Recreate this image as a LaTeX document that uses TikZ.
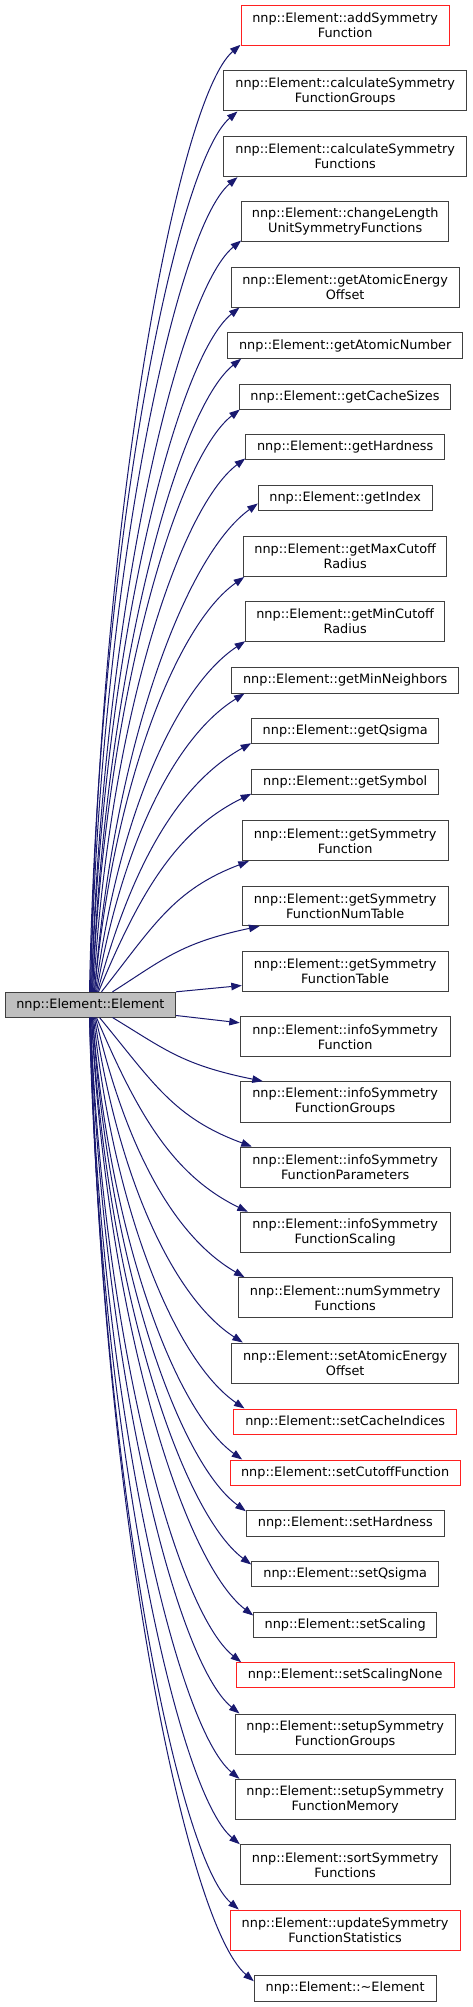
\documentclass[tikz,border=0pt]{standalone}
\usepackage{fontspec}
\setmainfont{DejaVu Sans}
\usetikzlibrary{arrows.meta,calc}
\definecolor{edgeblue}{HTML}{191970}
\definecolor{boxborder}{HTML}{404040}
\definecolor{mainfill}{HTML}{BFBFBF}
\definecolor{boxred}{HTML}{FF2020}
\tikzset{
  box/.style={draw=boxborder, line width=1pt, fill=white, inner sep=0pt, align=center,
    font=\fontsize{12.85}{15}\selectfont},
  redbox/.style={box, draw=boxred},
  mainbox/.style={box, fill=mainfill},
  callarrow/.style={draw=edgeblue, line width=1pt, -{Triangle[length=10.5pt,width=7.5pt]}}
}
% upward connector: #1 target, #2 start offset from main's left, #3 #4 end shift from target south west
\newcommand\upcall[4]{%
  \draw[callarrow] let \p1=($(main.north west)+(#2,0)$), \p2=($(#1.south west)+(#3,#4)$),
    \n1={\x2-\x1}, \n2={\y2-\y1},
    \n3={0.35*\n1*min(1,\n1/\n2)}, \n4={0.5*atan(\n2/\n1)}, \n5={0.55*\n1}
  in (\p1) .. controls ($(\p1)+(\n3,0.5*\n2)$) and ($(\p2)+({-\n5*cos(\n4)},{-\n5*sin(\n4)})$) .. (\p2);}
% downward connector
\newcommand\downcall[4]{%
  \draw[callarrow] let \p1=($(main.south west)+(#2,0)$), \p2=($(#1.north west)+(#3,#4)$),
    \n1={\x2-\x1}, \n2={\y1-\y2},
    \n3={0.35*\n1*min(1,\n1/\n2)}, \n4={0.5*atan(\n2/\n1)}, \n5={0.55*\n1}
  in (\p1) .. controls ($(\p1)+(\n3,-0.5*\n2)$) and ($(\p2)+({-\n5*cos(\n4)},{\n5*sin(\n4)})$) .. (\p2);}
\begin{document}
\begin{tikzpicture}[x=1pt,y=-1pt]
\fill[white] (0,0) rectangle (472,2007);
\useasboundingbox (0,0) rectangle (472,2007);

\node[mainbox, minimum width=170.7pt, minimum height=24.7pt] (main) at (90.35,1004.65) {nnp::Element::Element};

\node[redbox, minimum width=208.3pt, minimum height=40pt] (n1) at (345.15,25.7) {nnp::Element::addSymmetry\\Function};
\node[box, minimum width=243pt, minimum height=40pt] (n2) at (345.2,91) {nnp::Element::calculateSymmetry\\FunctionGroups};
\node[box, minimum width=243pt, minimum height=40pt] (n3) at (345.2,156.7) {nnp::Element::calculateSymmetry\\Functions};
\node[box, minimum width=207pt, minimum height=40pt] (n4) at (345.2,221.7) {nnp::Element::changeLength\\UnitSymmetryFunctions};
\node[box, minimum width=228.3pt, minimum height=40pt] (n5) at (345.15,287) {nnp::Element::getAtomicEnergy\\Offset};
\node[box, minimum width=235pt, minimum height=25.5pt] (n6) at (345.2,345.5) {nnp::Element::getAtomicNumber};
\node[box, minimum width=211.4pt, minimum height=25pt] (n7) at (345,396.5) {nnp::Element::getCacheSizes};
\node[box, minimum width=199pt, minimum height=25pt] (n8) at (345.2,447.2) {nnp::Element::getHardness};
\node[box, minimum width=173.7pt, minimum height=25pt] (n9) at (345.15,497.8) {nnp::Element::getIndex};
\node[box, minimum width=203pt, minimum height=40pt] (n10) at (345.2,556.5) {nnp::Element::getMaxCutoff\\Radius};
\node[box, minimum width=199pt, minimum height=40pt] (n11) at (345.2,621.7) {nnp::Element::getMinCutoff\\Radius};
\node[box, minimum width=227pt, minimum height=25.3pt] (n12) at (345.2,680.35) {nnp::Element::getMinNeighbors};
\node[box, minimum width=187pt, minimum height=25pt] (n13) at (345.2,731.2) {nnp::Element::getQsigma};
\node[box, minimum width=187pt, minimum height=25.3pt] (n14) at (345.2,781.65) {nnp::Element::getSymbol};
\node[box, minimum width=205.7pt, minimum height=40pt] (n15) at (345.15,840.7) {nnp::Element::getSymmetry\\Function};
\node[box, minimum width=205.7pt, minimum height=39.7pt] (n16) at (345.15,905.85) {nnp::Element::getSymmetry\\FunctionNumTable};
\node[box, minimum width=205.7pt, minimum height=39.7pt] (n17) at (345.15,971.15) {nnp::Element::getSymmetry\\FunctionTable};
\node[box, minimum width=209.7pt, minimum height=40pt] (n18) at (345.15,1036.7) {nnp::Element::infoSymmetry\\Function};
\node[box, minimum width=209.7pt, minimum height=40.3pt] (n19) at (345.15,1101.85) {nnp::Element::infoSymmetry\\FunctionGroups};
\node[box, minimum width=209.7pt, minimum height=40pt] (n20) at (345.15,1167) {nnp::Element::infoSymmetry\\FunctionParameters};
\node[box, minimum width=209.7pt, minimum height=40.4pt] (n21) at (345.15,1232.5) {nnp::Element::infoSymmetry\\FunctionScaling};
\node[box, minimum width=213.7pt, minimum height=40pt] (n22) at (345.15,1297.7) {nnp::Element::numSymmetry\\Functions};
\node[box, minimum width=227pt, minimum height=40pt] (n23) at (345.2,1363) {nnp::Element::setAtomicEnergy\\Offset};
\node[redbox, minimum width=223pt, minimum height=25.7pt] (n24) at (345.2,1421.85) {nnp::Element::setCacheIndices};
\node[redbox, minimum width=229.7pt, minimum height=25.3pt] (n25) at (345.15,1472.65) {nnp::Element::setCutoffFunction};
\node[box, minimum width=198pt, minimum height=25.3pt] (n26) at (345.3,1523.35) {nnp::Element::setHardness};
\node[box, minimum width=187pt, minimum height=25.7pt] (n27) at (345.2,1573.85) {nnp::Element::setQsigma};
\node[box, minimum width=183pt, minimum height=25pt] (n28) at (345.2,1624.5) {nnp::Element::setScaling};
\node[redbox, minimum width=217.7pt, minimum height=25pt] (n29) at (345.15,1675.2) {nnp::Element::setScalingNone};
\node[box, minimum width=220.3pt, minimum height=40pt] (n30) at (345.15,1734) {nnp::Element::setupSymmetry\\FunctionGroups};
\node[box, minimum width=220.3pt, minimum height=39.7pt] (n31) at (345.15,1799.15) {nnp::Element::setupSymmetry\\FunctionMemory};
\node[box, minimum width=209.7pt, minimum height=40pt] (n32) at (345.15,1864.7) {nnp::Element::sortSymmetry\\Functions};
\node[redbox, minimum width=229.7pt, minimum height=40pt] (n33) at (345.15,1930) {nnp::Element::updateSymmetry\\FunctionStatistics};
\node[box, minimum width=181.7pt, minimum height=25.3pt] (n34) at (345.15,1988.35) {nnp::Element::\textasciitilde Element};

\upcall{n1}{86}{0}{-1.4}
\upcall{n2}{85}{14.3}{0}
\upcall{n3}{86}{14.3}{0}
\upcall{n4}{87}{0}{-1.7}
\upcall{n5}{87}{9}{0}
\upcall{n6}{88}{14}{0}
\upcall{n7}{88}{1}{0}
\upcall{n8}{89}{0}{-1.7}
\upcall{n9}{90}{0}{-7.3}
\upcall{n10}{90}{1}{0}
\upcall{n11}{91}{0}{-1}
\upcall{n12}{92}{13.3}{0}
\upcall{n13}{93}{0}{-1}
\upcall{n14}{94}{0}{-1}
\upcall{n15}{97}{7}{0}
\upcall{n16}{108}{17.7}{0}
\draw[callarrow] (main.north east) -- ($(n17.south west)+(0,-6)$);

\draw[callarrow] ($(main.south east)+(0,-2)$) -- ($(n18.north west)+(0,6.6)$);
\downcall{n19}{108}{23}{0}
\downcall{n20}{95}{12}{0}
\downcall{n21}{92}{8}{0}
\downcall{n22}{91}{6.7}{0}
\downcall{n23}{90}{11.6}{0}
\downcall{n24}{89}{11.3}{0}
\downcall{n25}{88}{12.4}{0}
\downcall{n26}{88}{0}{1}
\downcall{n27}{87}{0}{4}
\downcall{n28}{87}{0}{4}
\downcall{n29}{86}{5.4}{0}
\downcall{n30}{86}{5}{0}
\downcall{n31}{85}{5}{0}
\downcall{n32}{85}{0}{0}
\downcall{n33}{86}{9}{0}
\downcall{n34}{86}{0}{6}
\end{tikzpicture}
\end{document}
